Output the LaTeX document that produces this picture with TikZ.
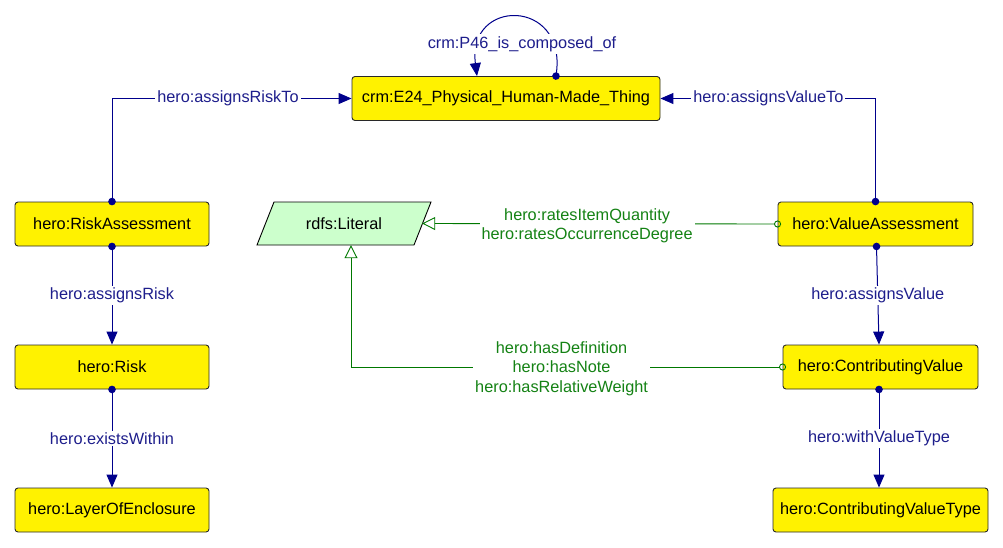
\documentclass[tikz,border=0pt]{standalone}
\usepackage{fontspec}
\setmainfont{Liberation Sans}
\usetikzlibrary{arrows.meta}
\definecolor{lineblue}{RGB}{0,0,140}
\definecolor{textblue}{RGB}{30,30,140}
\definecolor{linegreen}{RGB}{0,120,0}
\definecolor{textgreen}{RGB}{20,130,20}
\definecolor{litfill}{RGB}{204,255,204}
\definecolor{boxborder}{RGB}{40,40,40}
\tikzset{
  x=1pt, y=-1pt,
  every node/.style={font=\fontsize{16.3}{19.5}\selectfont},
  cls/.style={draw=boxborder, fill=yellow, rounded corners=3pt, minimum height=44pt, inner sep=0pt, line width=0.9pt},
  bluelink/.style={draw=lineblue, line width=1pt, {Circle[length=7.5pt]}-{Triangle[length=13pt,width=11pt]}, shorten <=-3.75pt},
  greenlink/.style={draw=linegreen, line width=0.9pt, {Circle[open,length=7pt]}-{Triangle[open,length=13pt,width=13pt]}, shorten <=-3.5pt},
  bluelab/.style={fill=white, text=textblue, inner sep=2pt},
  greenlab/.style={fill=white, text=textgreen, inner sep=2pt, align=center},
}
\begin{document}
\begin{tikzpicture}
\useasboundingbox (0,0) rectangle (1003,547);
% literal parallelogram
\draw[fill=litfill, draw=black, line width=0.9pt] (274,202) -- (431,202) -- (414,245) -- (257,245) -- cycle;
\node[inner sep=0pt, minimum width=156pt, minimum height=43pt] (lit) at (344,223.5) {rdfs:Literal};
% classes
\node[cls, minimum width=308pt] (e24) at (506,98.5) {crm:E24\_Physical\_Human-Made\_Thing};
\node[cls, minimum width=194pt] (ra) at (112,224) {hero:RiskAssessment};
\node[cls, minimum width=194pt] (risk) at (112,367) {hero:Risk};
\node[cls, minimum width=194pt] (layer) at (112,510) {hero:LayerOfEnclosure};
\node[cls, minimum width=195pt] (va) at (875.5,224) {hero:ValueAssessment};
\node[cls, minimum width=195pt] (cv) at (880.5,367) {hero:ContributingValue};
\node[cls, minimum width=215pt] (cvt) at (880.5,510) {hero:ContributingValueType};
% blue links
\draw[bluelink] (ra.north) |- node[bluelab, pos=0.742] {hero:assignsRiskTo} (e24.west);
\draw[bluelink] (va.north) |- node[bluelab, pos=0.749] {hero:assignsValueTo} (e24.east);
\draw[bluelink] (ra.south) -- node[bluelab] {hero:assignsRisk} (risk.north);
\draw[bluelink] (risk.south) -- node[bluelab] {hero:existsWithin} (layer.north);
\draw[bluelink] ([xshift=1pt]va.south) -- node[bluelab] {hero:assignsValue} ([xshift=-1.5pt]cv.north);
\draw[bluelink] ([xshift=-1.5pt]cv.south) -- node[bluelab] {hero:withValueType} ([xshift=-1.5pt]cvt.north);
\draw[bluelink] ([xshift=50pt]e24.north) .. controls (566,-2) and (467,-2) .. ([xshift=-29pt]e24.north);
\node[bluelab] (p46) at (522,44) {crm:P46\_is\_composed\_of};
% green links
\draw[greenlink] (va.west) -- node[greenlab, pos=0.536, yshift=-2pt] {hero:ratesItemQuantity\\hero:ratesOccurrenceDegree} (lit.east);
\draw[greenlink] (cv.west) -| node[greenlab, pos=0.256, yshift=-1.5pt] {hero:hasDefinition\\hero:hasNote\\hero:hasRelativeWeight} ([xshift=7pt]lit.south);
\end{tikzpicture}
\end{document}
